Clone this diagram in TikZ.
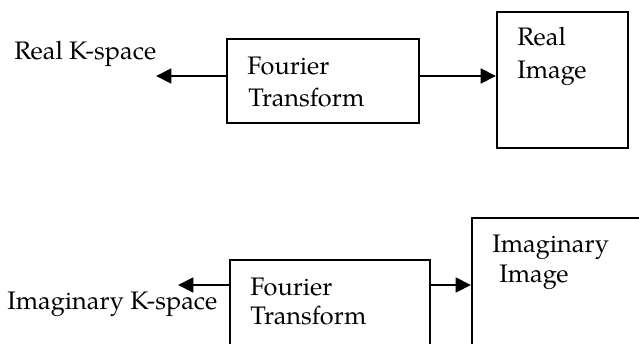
\documentclass[tikz,border=0pt]{standalone}
\usepackage{fontspec}
\setmainfont{TeX Gyre Pagella}
\usetikzlibrary{arrows.meta, positioning}

\begin{document}
\begin{tikzpicture}[x=0.75pt, y=-0.75pt,
    txt/.style={anchor=base west, inner sep=0pt, font=\fontsize{19pt}{23pt}\selectfont},
    blk/.style={draw, line width=1.4pt, anchor=north west, inner sep=0pt},
    arr/.style={line width=2.1pt, -{Triangle[length=11.5pt, width=11pt]}}]
    \useasboundingbox (0,0) rectangle (639,343);
    \clip (0,0) rectangle (639,343);

    % Real part
    \node[blk, minimum width=144pt, minimum height=63pt] (ft1) at (226,38) {};
    \node[blk, minimum width=98.25pt, minimum height=102pt] (img1) at (496,11) {};
    \coordinate (kl1) at (156,76);
    \node[txt] (ks1) at (14,59) {Real K-space};
    \node[txt] (ft1a) at (247,74) {Fourier};
    \node[txt] (ft1b) at (248,106) {Transform};
    \node[txt] (img1a) at (517,45) {Real};
    \node[txt] (img1b) at (517,78) {Image};
    \draw[arr] (ft1.west |- kl1) -- (kl1);
    \draw[arr] (ft1.east |- kl1) -- (img1.west |- kl1);

    % Imaginary part
    \node[blk, minimum width=150pt, minimum height=90pt] (ft2) at (229,259) {};
    \node[blk, minimum width=150pt, minimum height=120pt] (img2) at (471,217) {};
    \coordinate (kl2) at (178,285);
    \node[txt] (ks2) at (7,309) {Imaginary K-space};
    \node[txt] (ft2a) at (250,295) {Fourier};
    \node[txt] (ft2b) at (250,324) {Transform};
    \node[txt] (img2a) at (492,252) {Imaginary};
    \node[txt] (img2b) at (499,282) {Image};
    \draw[arr] (ft2.west |- kl2) -- (kl2);
    \draw[arr] (ft2.east |- kl2) -- (img2.west |- kl2);
\end{tikzpicture}
\end{document}
